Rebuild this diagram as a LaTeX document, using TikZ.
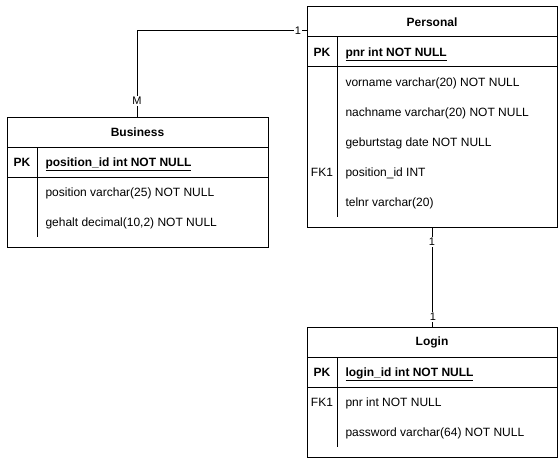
\documentclass[tikz,border=0pt]{standalone}
\usepackage{fontspec}
\setmainfont{Liberation Sans}
\usetikzlibrary{calc}

\newcommand{\tablefont}{\fontsize{12}{14}\selectfont}

\tikzset{
  tablebox/.style={draw,inner sep=0pt,outer sep=0pt},
  tabletitle/.style={font=\tablefont\bfseries,inner sep=0pt},
  field/.style={anchor=base west,inner sep=0pt,font=\tablefont},
  keyfield/.style={anchor=base,inner sep=0pt,font=\tablefont},
  bold/.style={font=\tablefont\bfseries},
  card/.style={fill=white,inner sep=1pt,font=\fontsize{11}{13}\selectfont}
}

\begin{document}
\begin{tikzpicture}[x=1pt,y=-1pt,line width=1pt]
  \useasboundingbox (0,0) rectangle (560,460);

  % Business
  \node[tablebox,minimum width=261pt,minimum height=130pt] (business) at (137.5,182) {};
  \draw (7,147) -- (268,147);
  \draw (7,177) -- (268,177);
  \draw (37,147) -- (37,237);
  \node[tabletitle] (businesstitle) at (137.5,132) {Business};
  \node[keyfield,bold] (businesspk) at (22,166.5) {PK};
  \node[field,bold] (businessid) at (45,166.5) {\underline{position\_id int NOT NULL}};
  \node[field] (businesspos) at (45,196.5) {position varchar(25) NOT NULL};
  \node[field] (businessgehalt) at (45,226.5) {gehalt decimal(10,2) NOT NULL};

  % Personal
  \node[tablebox,minimum width=250pt,minimum height=220pt] (personal) at (432,117) {};
  \draw (307,37) -- (557,37);
  \draw (307,67) -- (557,67);
  \draw (337,37) -- (337,217);
  \node[tabletitle] (personaltitle) at (432,22) {Personal};
  \node[keyfield,bold] (personalpk) at (322,56.5) {PK};
  \node[field,bold] (personalid) at (345,56.5) {\underline{pnr int NOT NULL}};
  \foreach \y/\txt in {86.5/vorname varchar(20) NOT NULL,
                       116.5/nachname varchar(20) NOT NULL,
                       146.5/geburtstag date NOT NULL,
                       176.5/position\_id INT,
                       206.5/telnr varchar(20)}
    \node[field] at (345,\y) {\txt};
  \node[keyfield] (personalfk) at (322,176.5) {FK1};

  % Login
  \node[tablebox,minimum width=250pt,minimum height=130pt] (login) at (432,392) {};
  \draw (307,357) -- (557,357);
  \draw (307,387) -- (557,387);
  \draw (337,357) -- (337,447);
  \node[tabletitle] (logintitle) at (432,342) {Login};
  \node[keyfield,bold] (loginpk) at (322,376.5) {PK};
  \node[field,bold] (loginid) at (345,376.5) {\underline{login\_id int NOT NULL}};
  \node[keyfield] (loginfk) at (322,406.5) {FK1};
  \node[field] (loginpnr) at (345,406.5) {pnr int NOT NULL};
  \node[field] (loginpw) at (345,436.5) {password varchar(64) NOT NULL};

  % relations
  \coordinate (personalin) at ($(personal.north west)+(0,24)$);
  \draw (business.north) |- (personalin);
  \draw (personal.south) -- (login.north);
  \node[card] (cardm) at (137,101) {M};
  \node[card] (cardp1) at (298,31) {1};
  \node[card] (cardp2) at (432,242) {1};
  \node[card] (cardl) at (433,317) {1};
\end{tikzpicture}
\end{document}
